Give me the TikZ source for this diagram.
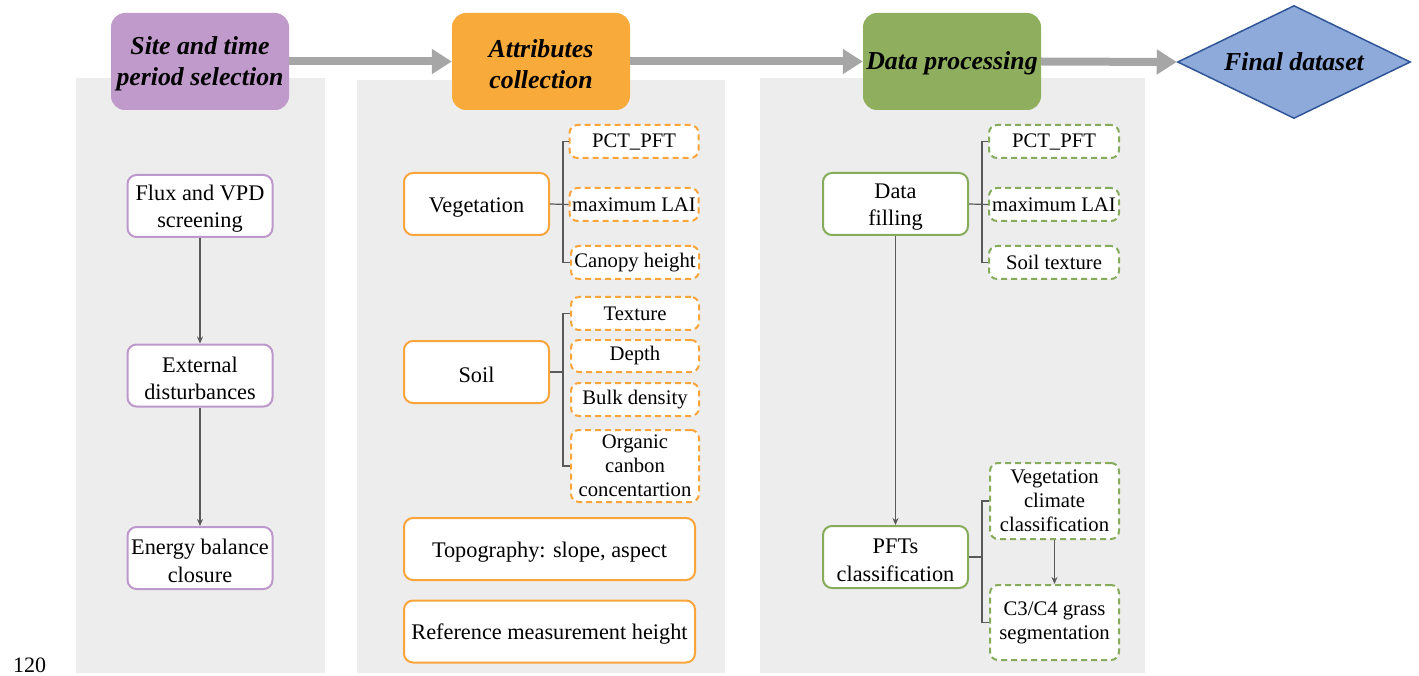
\documentclass[tikz,border=0pt]{standalone}
\usepackage{fontspec}
\setmainfont{Liberation Serif}
\usetikzlibrary{arrows.meta,shapes.geometric}
\definecolor{panel}{HTML}{EDEDED}
\definecolor{purpF}{HTML}{BF9ACB}
\definecolor{purpB}{HTML}{BC98CC}
\definecolor{orF}{HTML}{F8AB3A}
\definecolor{orB}{HTML}{F9A53C}
\definecolor{grF}{HTML}{8FAF5F}
\definecolor{grB}{HTML}{86AB5A}
\definecolor{bluF}{HTML}{8EAADB}
\definecolor{bluB}{HTML}{2F5597}
\definecolor{flowgray}{HTML}{A6A6A6}
\definecolor{linkgray}{HTML}{595959}
\tikzset{
  header/.style={rounded corners=14pt, minimum width=178pt, minimum height=97pt, inner sep=0pt, align=center,
    text height=22pt, font=\fontsize{25.8}{31}\selectfont\bfseries\itshape},
  headtwo/.style={text height=54pt},
  mainbox/.style={draw, line width=2pt, fill=white, rounded corners=9pt, minimum width=145pt, minimum height=62pt,
    inner sep=0pt, align=center, text height=21.5pt, font=\fontsize{22.3}{27.5}\selectfont},
  twoline/.style={text height=48.5pt},
  subbox/.style={draw, line width=2pt, dashed, dash pattern=on 6pt off 4pt, fill=white, rounded corners=8pt,
    minimum width=129pt, minimum height=33pt, inner sep=0pt, align=center, font=\fontsize{20.7}{24}\selectfont},
  flow/.style={flowgray, line width=8pt, -{Triangle[length=20pt,width=24pt]}, shorten >=0pt},
  link/.style={linkgray, line width=1.2pt},
  linkarrow/.style={linkgray, line width=1.2pt, -{Stealth[length=7pt,width=6pt]}},
}
\begin{document}
\begin{tikzpicture}[x=1pt,y=-1pt]
\useasboundingbox (0,0) rectangle (1419,676);
% panels
\fill[panel] (76,78) rectangle (325,673);
\fill[panel] (357,80) rectangle (725,673);
\fill[panel] (760,78) rectangle (1145,673);
% headers
\node[header, headtwo, fill=purpF] (h1) at (200,61.5) {Site and time\\period selection};
\node[header, headtwo, fill=orF] (h2) at (541,61.5) {Attributes\\collection};
\node[header, fill=grF] (h3) at (952,61.5) {Data processing};
\node[diamond, draw=bluB, line width=1.5pt, fill=bluF, minimum width=233pt, minimum height=113pt, inner sep=0pt,
  aspect=2.06, font=\fontsize{25.8}{31}\selectfont\bfseries\itshape] (h4) at (1294,62) {Final dataset};
\draw[flow] (h1.east) -- (h2.west);
\draw[flow] (h2.east) -- (h3.west);
\draw[flow] (h3.east) -- (h4.west);
% panel 1
\node[mainbox, twoline, draw=purpB] (flux) at (200,206) {Flux and VPD\\screening};
\node[mainbox, twoline, draw=purpB] (ext) at (200,375.5) {External\\disturbances};
\node[mainbox, twoline, draw=purpB] (ebc) at (200,558) {Energy balance\\closure};
\draw[linkarrow] (flux) -- (ext);
\draw[linkarrow] (ext) -- (ebc);
% panel 2
\node[mainbox, draw=orB] (veg) at (476.5,204) {Vegetation};
\node[subbox, draw=orB] (pct1) at (634,141.5) {PCT\_PFT};
\node[subbox, draw=orB] (lai1) at (634,204.5) {maximum LAI};
\node[subbox, draw=orB, minimum width=128pt] (can) at (635,262.5) {Canopy height};
\coordinate (vj) at (563,204);
\draw[link] (veg.east) -- (lai1.west);
\draw[link] (pct1.west) -- (pct1.west -| vj) -- (can.west -| vj) -- (can.west);
\node[mainbox, draw=orB] (soil) at (476.5,372) {Soil};
\node[subbox, draw=orB, minimum width=128pt] (tex) at (635,313.5) {Texture};
\node[subbox, draw=orB, minimum width=128pt, minimum height=32pt] (dep) at (635,356) {Depth};
\node[subbox, draw=orB, minimum width=128pt] (bulk) at (635,399.5) {Bulk density};
\node[subbox, draw=orB, minimum width=128pt, minimum height=72pt] (org) at (635,466) {Organic\\canbon\\concentartion};
\coordinate (sj) at (563,372);
\draw[link] (soil.east) -- (sj);
\draw[link] (tex.west) -- (tex.west -| sj) -- (org.west -| sj) -- (org.west);
\node[mainbox, draw=orB, minimum width=291pt] (topo) at (549.5,549) {Topography: slope, aspect};
\node[mainbox, draw=orB, minimum width=291pt] (refh) at (549.5,631.5) {Reference measurement height};
% panel 3
\node[mainbox, twoline, draw=grB] (fill) at (895.5,204) {Data\\filling};
\node[subbox, draw=grB, minimum width=130pt] (pct2) at (1054,141.5) {PCT\_PFT};
\node[subbox, draw=grB, minimum width=130pt] (lai2) at (1054,204.5) {maximum LAI};
\node[subbox, draw=grB, minimum width=130pt] (st) at (1054,262.5) {Soil texture};
\coordinate (fj) at (982,204);
\draw[link] (fill.east) -- (lai2.west);
\draw[link] (pct2.west) -- (pct2.west -| fj) -- (st.west -| fj) -- (st.west);
\node[mainbox, twoline, draw=grB] (pft) at (895.5,557) {PFTs\\classification};
\draw[linkarrow] (fill) -- (pft);
\node[subbox, draw=grB, minimum width=129pt, minimum height=76pt] (vcc) at (1054.5,501) {Vegetation\\climate\\classification};
\node[subbox, draw=grB, minimum width=129pt, minimum height=75pt] (c34) at (1054.5,622.5) {C3/C4 grass\\segmentation};
\coordinate (pj) at (982,557);
\draw[link] (pft.east) -- (pj);
\draw[link] (vcc.west) -- (vcc.west -| pj) -- (c34.west -| pj) -- (c34.west);
\draw[linkarrow] (vcc) -- (c34);
% page number
\node[anchor=base west, inner sep=0pt, font=\fontsize{22}{26}\selectfont] (pg) at (13,672) {120};
\end{tikzpicture}
\end{document}
